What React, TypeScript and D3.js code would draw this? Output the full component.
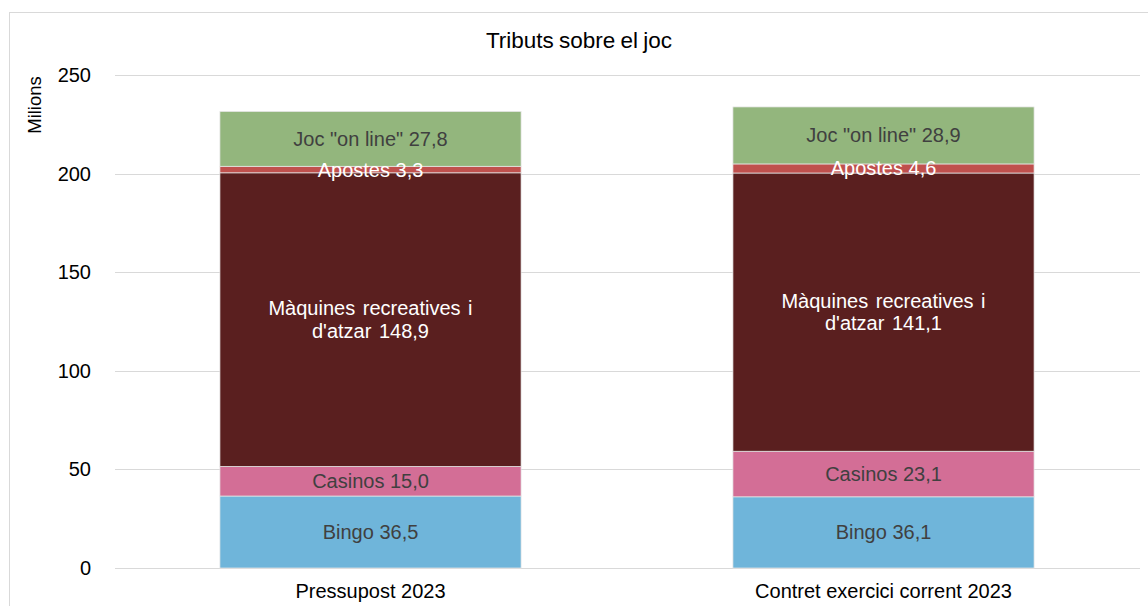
import React from "react";
import * as d3 from "d3";

const categories = ["Pressupost 2023", "Contret exercici corrent 2023"];
const seriesNames = ["Bingo", "Casinos", "Màquines recreatives i d'atzar", "Apostes", "Joc \"on line\""];
const bingo = [36.5, 36.1];
const casinos = [15.0, 23.1];
const maquines = [148.9, 141.1];
const apostes = [3.3, 4.6];
const online = [27.8, 28.9];
const yTicks = [0, 50, 100, 150, 200, 250];
const colors = ["#6fb5da", "#d36e96", "#5a1f1f", "#c0504d", "#93b67d"];
const labelColors = ["#404040", "#404040", "#ffffff", "#ffffff", "#404040"];
const labelLines = [
  ["Bingo"],
  ["Casinos"],
  ["Màquines recreatives i", "d'atzar"],
  ["Apostes"],
  ["Joc \"on line\""],
];

const W = 1148, H = 606;
const font = "'Liberation Sans', Arial, sans-serif";
const fmt = (v: number) => v.toFixed(1).replace(".", ",");

export default function App() {
  const series = [bingo, casinos, maquines, apostes, online];
  const rows = categories.map((c, i) => {
    const r: any = { cat: c };
    seriesNames.forEach((s, k) => (r[s] = series[k][i]));
    return r;
  });
  const stacked = d3.stack<any>().keys(seriesNames)(rows);
  const x = d3.scaleBand().domain(categories).range([114, 1140]).paddingInner(0.413).paddingOuter(0.2065);
  const y = d3.scaleLinear().domain([0, 250]).range([568, 75]);
  const bw = x.bandwidth();

  return (
    <svg width={W} height={H} style={{ position: "absolute", left: 0, top: 0 }} fontFamily={font}>
      <rect x={0} y={0} width={W} height={H} fill="#fff" />
      <rect x={9.5} y={12.5} width={W + 10} height={H + 10} fill="none" stroke="#d9d9d9" />
      <text x={579} y={48} textAnchor="middle" fontSize={22.5} fill="#000" wordSpacing={-1}>Tributs sobre el joc</text>
      <text transform={`translate(41,105) rotate(-90)`} textAnchor="middle" fontSize={18.5} fill="#000">Milions</text>
      {yTicks.map((t) => (
        <g key={t}>
          <line x1={115} x2={1140} y1={Math.round(y(t)) + 0.5} y2={Math.round(y(t)) + 0.5} stroke="#d9d9d9" strokeWidth={1} />
          <text x={91} y={y(t) + 7} textAnchor="end" fontSize={20} fill="#000">{t}</text>
        </g>
      ))}
      {stacked.map((s, k) => (
        <g key={s.key}>
          {s.map((d, i) => {
            const x0 = x(categories[i])!;
            return (
              <rect key={i} x={x0} y={y(d[1])} width={bw} height={y(d[0]) - y(d[1])}
                fill={colors[k]} stroke="#e6e6e6" strokeWidth={0.75} />
            );
          })}
        </g>
      ))}
      {stacked.map((s, k) => (
        <g key={"l" + s.key}>
          {s.map((d, i) => {
            const cx = x(categories[i])! + bw / 2;
            const cy = (y(d[0]) + y(d[1])) / 2;
            const lines = labelLines[k].slice();
            lines[lines.length - 1] = lines[lines.length - 1] + " " + fmt(series[k][i]);
            const lh = 22.5;
            const start = cy - ((lines.length - 1) * lh) / 2;
            return (
              <text key={i} textAnchor="middle" fontSize={20} fill={labelColors[k]} wordSpacing={lines.length > 1 ? 2 : 0}>
                {lines.map((ln, j) => (
                  <tspan key={j} x={cx} y={start + j * lh + 7}>{ln}</tspan>
                ))}
              </text>
            );
          })}
        </g>
      ))}
      {categories.map((c) => (
        <text key={c} x={x(c)! + bw / 2} y={598} textAnchor="middle" fontSize={20} fill="#000">{c}</text>
      ))}
    </svg>
  );
}
